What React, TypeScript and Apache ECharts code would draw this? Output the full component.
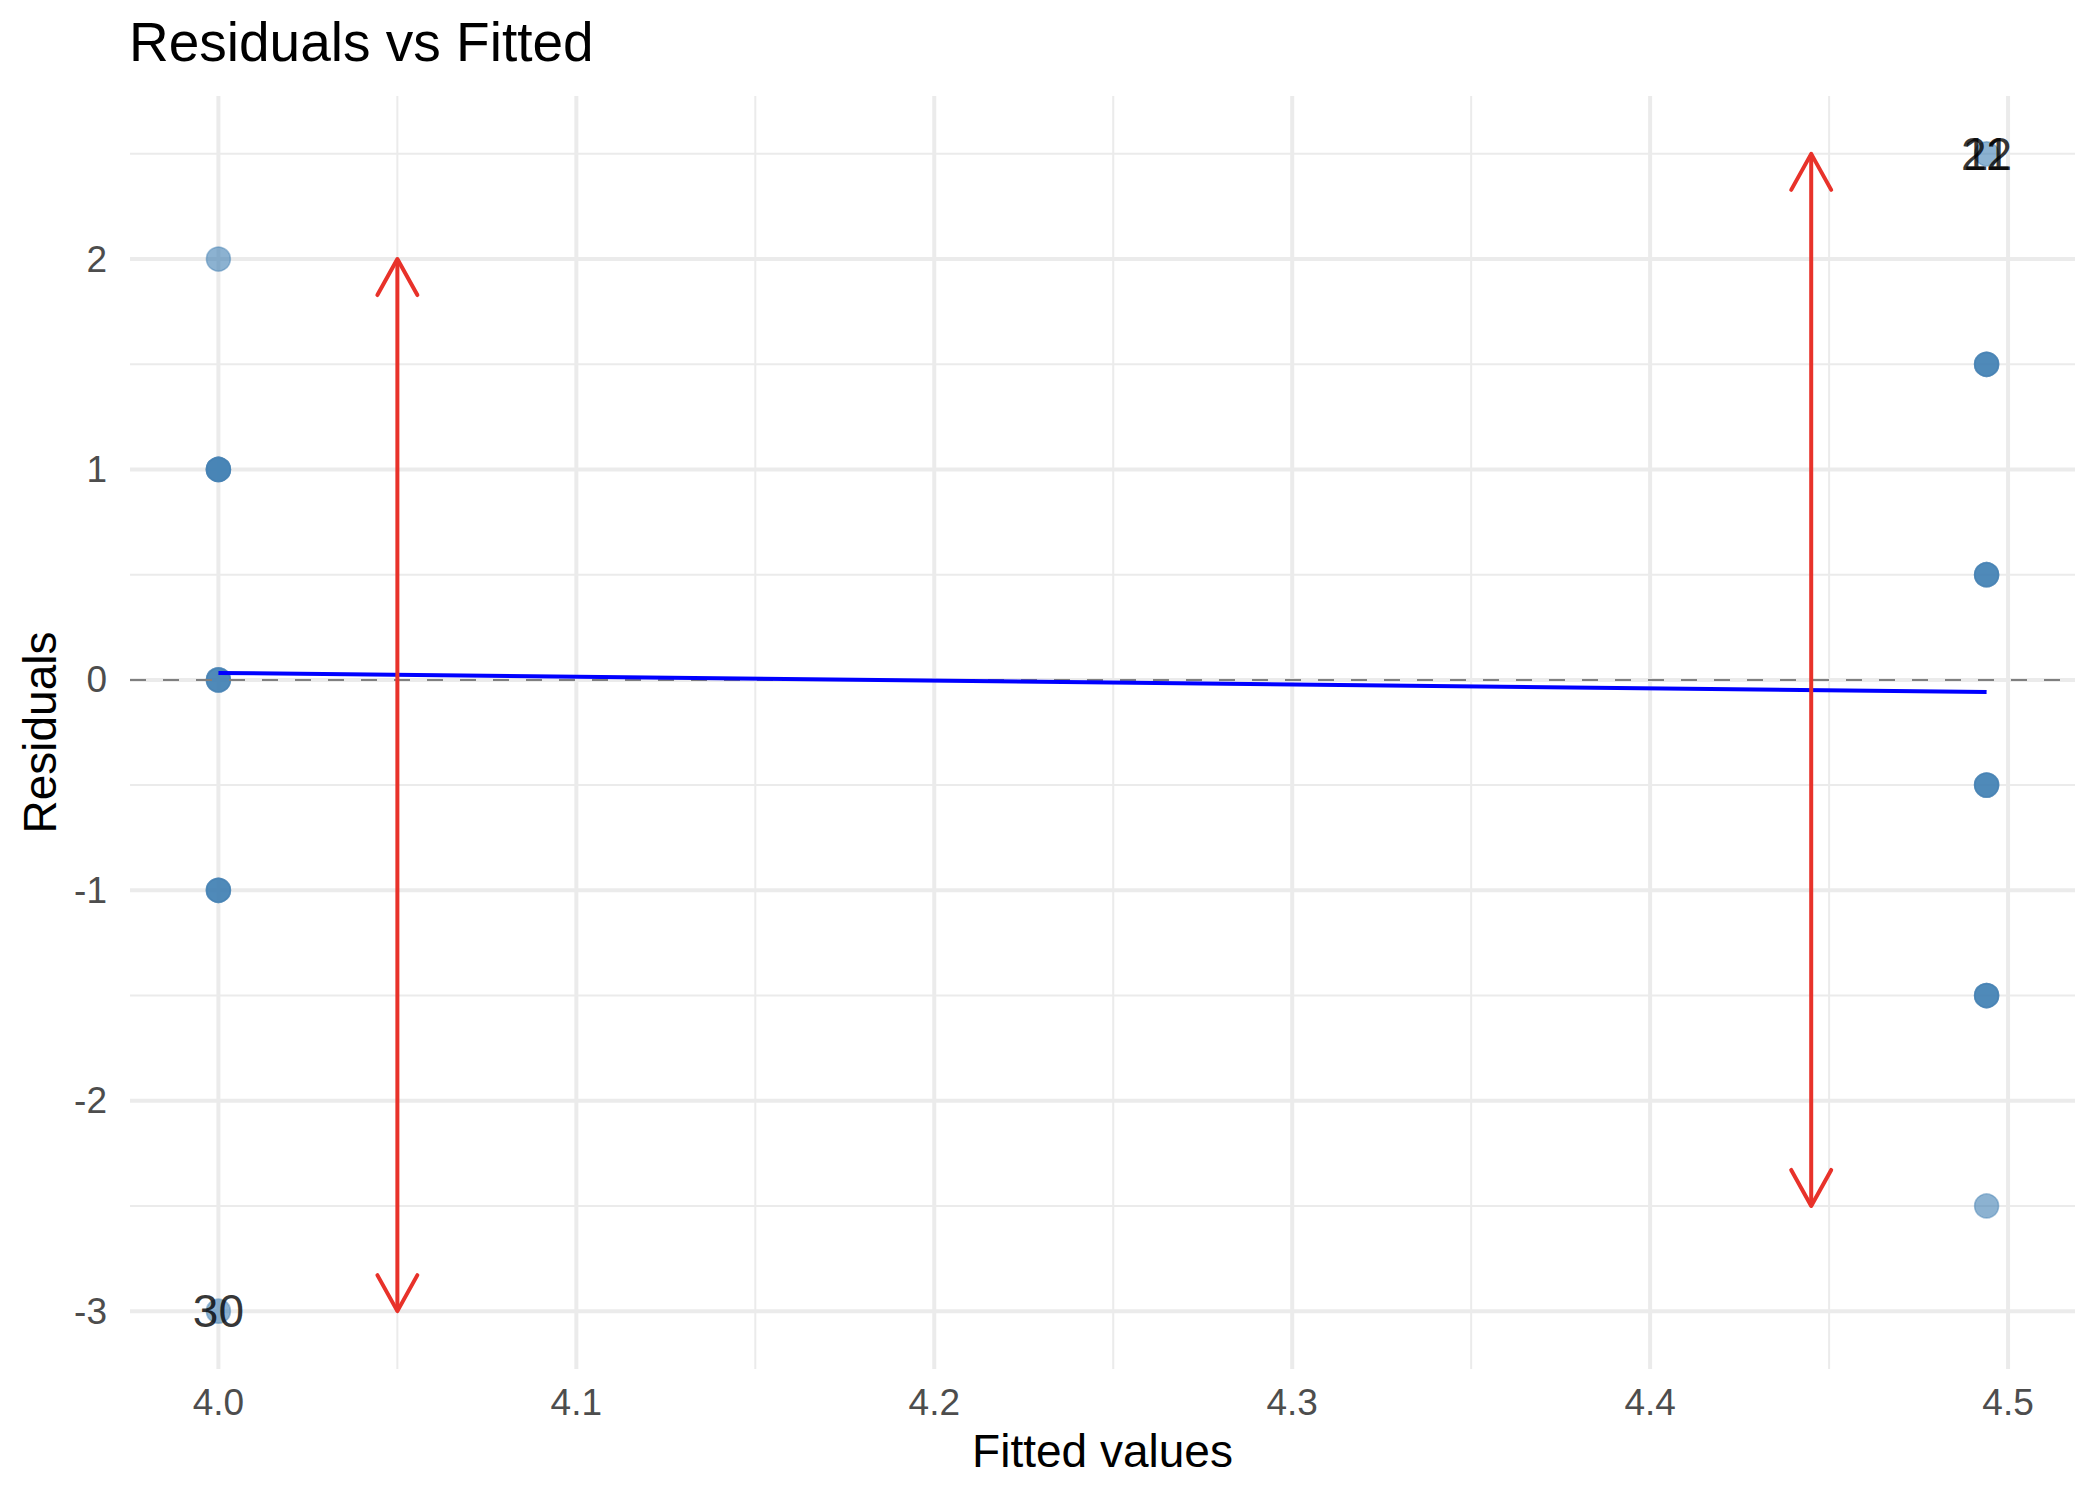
import React, { useEffect, useRef } from "react";
import * as echarts from "echarts";

const xTicks = [4.0, 4.1, 4.2, 4.3, 4.4, 4.5];
const xMinor = [4.05, 4.15, 4.25, 4.35, 4.45];
const yTicks = [-3, -2, -1, 0, 1, 2];
const yMinor = [-2.5, -1.5, -0.5, 0.5, 1.5, 2.5];

const fittedLow = 4.0;
const fittedHigh = 4.494;
const residualsLow = [2, 1, 1, 1, 1, 0, 0, 0, -1, -1, -1, -3];
const residualsHigh = [2.5, 1.5, 1.5, 1.5, 0.5, 0.5, 0.5, -0.5, -0.5, -0.5, -1.5, -1.5, -1.5, -2.5];

const smoothX = [4.0, 4.494];
const smoothY = [0.033, -0.057];

const labelNames = ["30", "22", "11"];
const labelX = [4.0, 4.494, 4.494];
const labelY = [-3, 2.5, 2.5];

const arrowX = [4.05, 4.445];
const arrowTop = [2, 2.5];
const arrowBottom = [-3, -2.5];

const FONT = "'Liberation Sans', Arial, Helvetica, sans-serif";
const RED = "#E8322A";

export default function App() {
  const ref = useRef<HTMLDivElement>(null);

  useEffect(() => {
    if (!ref.current) return;
    const chart = echarts.init(ref.current, null, { renderer: "svg" });

    const gridData: number[][] = [];
    xTicks.forEach((v) => gridData.push([v, 0, 1]));
    xMinor.forEach((v) => gridData.push([v, 0, 0]));
    yTicks.forEach((v) => gridData.push([v, 1, 1]));
    yMinor.forEach((v) => gridData.push([v, 1, 0]));

    const points: number[][] = [];
    residualsLow.forEach((r) => points.push([fittedLow, r]));
    residualsHigh.forEach((r) => points.push([fittedHigh, r]));

    const option: any = {
      animation: false,
      backgroundColor: "#ffffff",
      title: {
        text: "Residuals vs Fitted",
        left: 124,
        top: 9,
        textStyle: { fontFamily: FONT, fontSize: 55, fontWeight: "normal", color: "#000000" },
      },
      grid: { left: 130, right: 25, top: 96, bottom: 131, containLabel: false },
      xAxis: {
        type: "value",
        min: 3.9753,
        max: 4.5187,
        name: "Fitted values",
        nameLocation: "middle",
        nameGap: 59,
        nameTextStyle: { fontFamily: FONT, fontSize: 46, color: "#000000" },
        axisLine: { show: false },
        axisTick: { show: false, customValues: xTicks },
        splitLine: { show: false },
        axisLabel: {
          customValues: xTicks,
          formatter: (v: number) => v.toFixed(1),
          fontFamily: FONT,
          fontSize: 37,
          color: "#4D4D4D",
          margin: 15,
        },
      },
      yAxis: {
        type: "value",
        min: -3.275,
        max: 2.775,
        name: "Residuals",
        nameLocation: "middle",
        nameGap: 67,
        nameTextStyle: { fontFamily: FONT, fontSize: 46, color: "#000000" },
        axisLine: { show: false },
        axisTick: { show: false, customValues: yTicks },
        splitLine: { show: false },
        axisLabel: {
          customValues: yTicks,
          formatter: (v: number) => String(v),
          fontFamily: FONT,
          fontSize: 37,
          color: "#4D4D4D",
          margin: 23,
        },
      },
      series: [
        {
          type: "custom",
          z: 1,
          silent: true,
          data: gridData,
          renderItem: (params: any, api: any) => {
            const cs = params.coordSys;
            const v = api.value(0);
            const orient = api.value(1);
            const major = api.value(2);
            const style = { stroke: "#EBEBEB", lineWidth: major ? 4 : 2 };
            if (orient === 0) {
              const p = api.coord([v, 0]);
              return { type: "line", shape: { x1: p[0], y1: cs.y, x2: p[0], y2: cs.y + cs.height }, style };
            }
            const p = api.coord([4.2, v]);
            return { type: "line", shape: { x1: cs.x, y1: p[1], x2: cs.x + cs.width, y2: p[1] }, style };
          },
        },
        {
          type: "scatter",
          z: 2,
          silent: true,
          data: points,
          symbolSize: 24,
          itemStyle: {
            color: "rgba(70,130,180,0.62)",
            borderColor: "rgba(70,130,180,0.5)",
            borderWidth: 1.5,
            opacity: 1,
          },
        },
        {
          type: "custom",
          z: 3,
          silent: true,
          data: [[0]],
          renderItem: (params: any, api: any) => {
            const cs = params.coordSys;
            const p = api.coord([4.2, api.value(0)]);
            return {
              type: "line",
              shape: { x1: cs.x, y1: p[1], x2: cs.x + cs.width, y2: p[1] },
              style: { stroke: "#7F7F7F", lineWidth: 2, lineDash: [16, 17] },
            };
          },
        },
        {
          type: "line",
          z: 4,
          silent: true,
          data: smoothX.map((x, i) => [x, smoothY[i]]),
          showSymbol: false,
          symbol: "none",
          lineStyle: { color: "#0000FF", width: 4 },
        },
        {
          type: "custom",
          z: 5,
          silent: true,
          data: arrowX.map((x, i) => [x, arrowTop[i], arrowBottom[i]]),
          renderItem: (params: any, api: any) => {
            const top = api.coord([api.value(0), api.value(1)]);
            const bot = api.coord([api.value(0), api.value(2)]);
            const dx = 20;
            const dy = 36;
            const style = { stroke: RED, lineWidth: 4, fill: null, lineJoin: "round", lineCap: "round" };
            return {
              type: "group",
              children: [
                { type: "line", shape: { x1: top[0], y1: top[1], x2: bot[0], y2: bot[1] }, style: { stroke: RED, lineWidth: 4 } },
                { type: "polyline", shape: { points: [[top[0] - dx, top[1] + dy], [top[0], top[1]], [top[0] + dx, top[1] + dy]] }, style },
                { type: "polyline", shape: { points: [[bot[0] - dx, bot[1] - dy], [bot[0], bot[1]], [bot[0] + dx, bot[1] - dy]] }, style },
              ],
            };
          },
        },
        {
          type: "scatter",
          z: 6,
          silent: true,
          symbolSize: 1,
          itemStyle: { color: "rgba(0,0,0,0)" },
          data: labelNames.map((n, i) => ({ name: n, value: [labelX[i], labelY[i]] })),
          label: {
            show: true,
            position: "inside",
            formatter: (p: any) => p.name,
            fontFamily: FONT,
            fontSize: 46,
            color: "#000000",
          },
          labelLayout: { hideOverlap: false },
        },
      ],
    };

    chart.setOption(option);
    return () => chart.dispose();
  }, []);

  return (
    <div
      ref={ref}
      style={{ position: "absolute", left: 0, top: 0, width: 2100, height: 1500, background: "#ffffff" }}
    />
  );
}
